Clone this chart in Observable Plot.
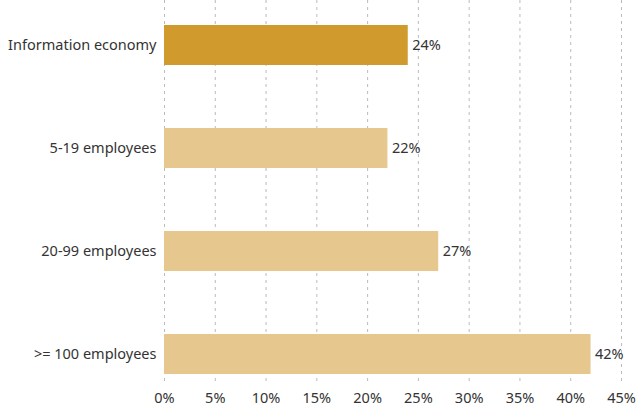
<!DOCTYPE html>
<html><head><meta charset="utf-8">
<script src="https://cdn.jsdelivr.net/npm/d3@7"></script>
<script src="https://cdn.jsdelivr.net/npm/@observablehq/plot@0.6"></script>
<style>body{margin:0;background:#fff}</style>
</head><body><div id="chart"></div>
<script>
const categories = ["Information economy", "5-19 employees", "20-99 employees", ">= 100 employees"];
const values = [24, 22, 27, 42];
const colors = ["#D09B2C", "#E6C78E", "#E6C78E", "#E6C78E"];
const xTicks = [0, 5, 10, 15, 20, 25, 30, 35, 40, 45];

const data = categories.map((c, i) => ({cat: c, value: values[i], color: colors[i]}));

const chart = Plot.plot({
  width: 639, height: 407,
  marginLeft: 164, marginRight: 18, marginTop: 0, marginBottom: 24,
  style: {fontFamily: "'Noto Sans', sans-serif", fontSize: "14.5px", color: "#333"},
  x: {domain: [0, 45], ticks: xTicks, tickFormat: d => d + "%", label: null},
  y: {domain: categories, range: [0, 398], paddingInner: 0.613, paddingOuter: 0.232, label: null},
  marks: [
    Plot.gridX(xTicks, {stroke: "#bbb", strokeOpacity: 1, strokeDasharray: "3,4"}),
    Plot.barX(data, {x: "value", y: "cat", fill: "color"}),
    Plot.text(data, {x: "value", y: "cat", text: d => d.value + "%", textAnchor: "start", dx: 4, fill: "#333", fontSize: 14.5}),
    Plot.axisY({tickSize: 0, tickPadding: 8, fontSize: 14.5}),
    Plot.axisX(xTicks, {tickSize: 0, tickPadding: 9, tickFormat: d => d + "%", fontSize: 14.5})
  ]
});
document.getElementById("chart").append(chart);
</script></body></html>
